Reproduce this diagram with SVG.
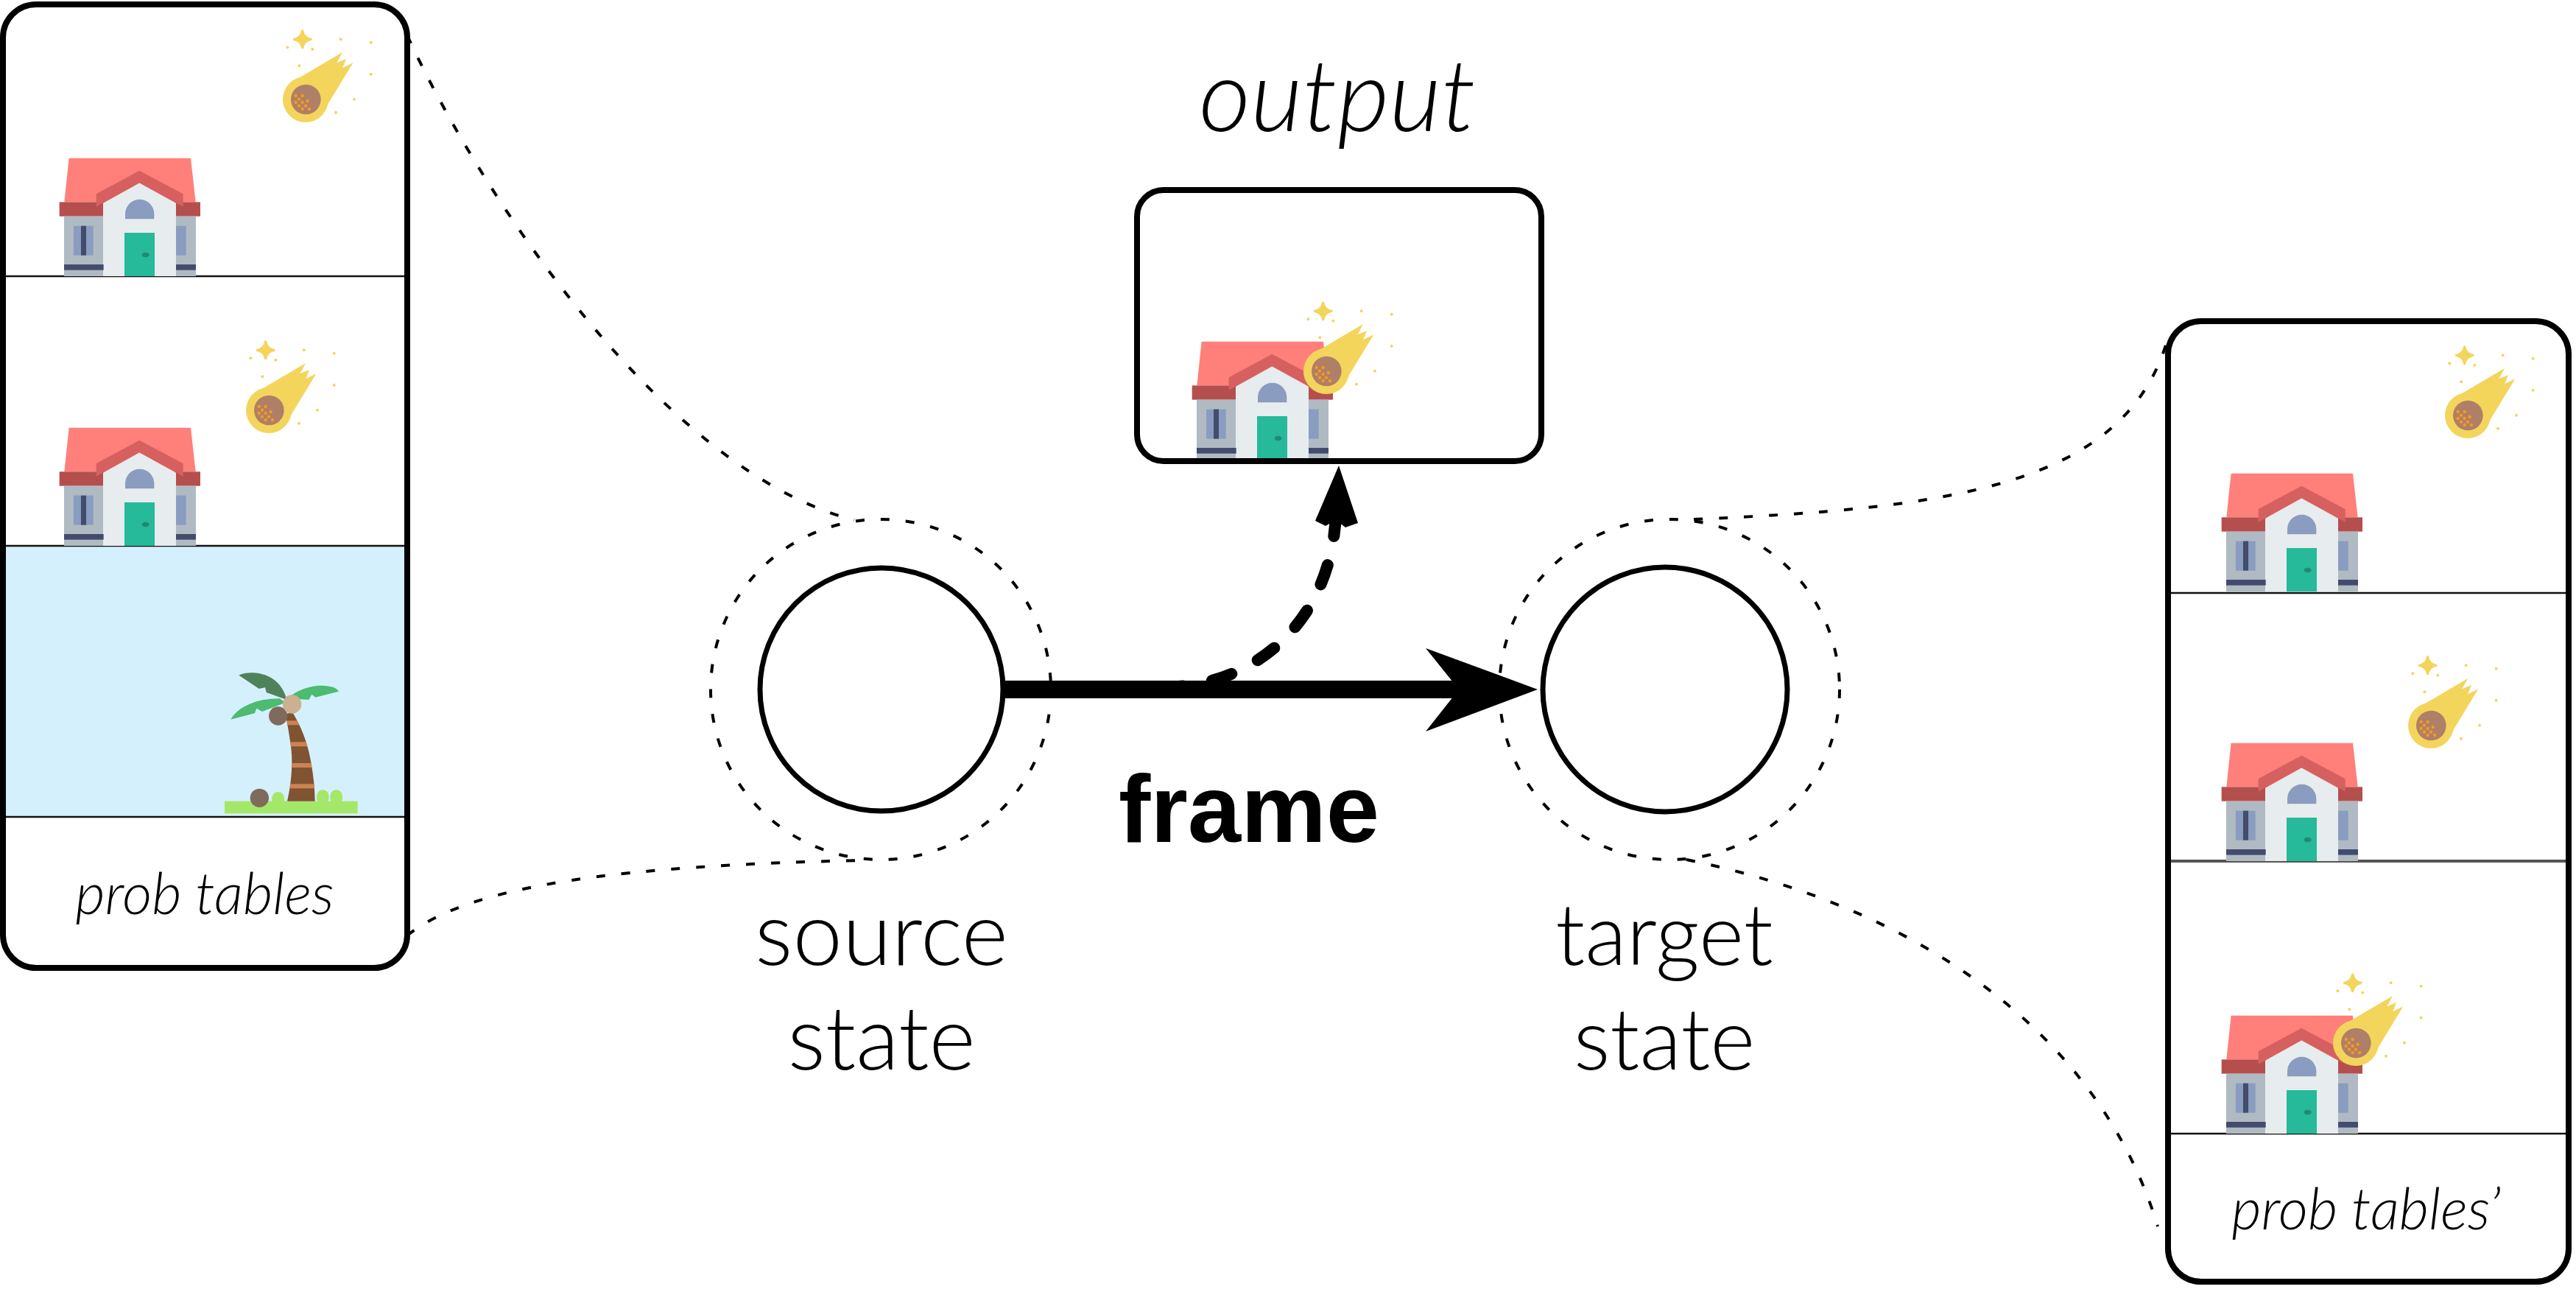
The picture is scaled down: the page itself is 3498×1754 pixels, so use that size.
<svg xmlns="http://www.w3.org/2000/svg" xmlns:xlink="http://www.w3.org/1999/xlink" width="3498" height="1754" viewBox="0 0 3498 1754">
  <style>
    .panel { fill: none; stroke: #000; stroke-width: 8; }
    .sep { stroke: #111; stroke-width: 2.5; }
    .state { fill: #fff; stroke: #000; stroke-width: 7; }
    .halo { fill: none; stroke: #000; stroke-width: 4; stroke-dasharray: 12 22; }
    .lead { fill: none; stroke: #000; stroke-width: 4; stroke-dasharray: 12 22; }
    .lbl { font-family: "Lato", "Liberation Sans", sans-serif; font-weight: 300; fill: #000; text-anchor: middle; }
    .ital { font-style: italic; }
    .bold { font-family: "Liberation Sans", Arial, sans-serif; font-weight: 700; fill: #000; text-anchor: middle; }
  </style>
  <defs>
    <!-- house icon, drawn at 3x and scaled down -->
    <g id="house">
      <g transform="scale(0.33333)">
        <polygon points="101,104 597,104 617,283 82,283" fill="#FF7F7A"/>
        <rect x="62" y="283" width="574" height="58" fill="#B44F4E"/>
        <rect x="81" y="341" width="537" height="244" fill="#AFBAC3"/>
        <polygon points="240,287 388,205 537,287 537,585 240,585" fill="#E7ECEE"/>
        <polygon points="212,250 388,155 566,250 566,302 388,205 212,302" fill="#D5605F"/>
        <path d="M330,352 V331 A59,59 0 0 1 448,331 V352 Z" fill="#8A9CBF"/>
        <rect x="327" y="408" width="123" height="177" fill="#26B99A"/>
        <ellipse cx="413" cy="498" rx="15" ry="10" fill="#1F8A70"/>
        <rect x="120" y="380" width="80" height="120" fill="#8A9CBF"/>
        <rect x="150" y="380" width="21" height="120" fill="#434C6D"/>
        <rect x="537" y="380" width="41" height="120" fill="#8A9CBF"/>
        <rect x="81" y="537" width="161" height="23" fill="#434C6D"/>
        <rect x="537" y="537" width="81" height="23" fill="#434C6D"/>
      </g>
    </g>
    <!-- falling meteor with sparkles -->
    <g id="meteor">
      <g transform="scale(0.33333)">
        <g fill="#F3D55C">
          <circle cx="165" cy="345" r="93"/>
          <polygon points="120,268 315,153 292,196 330,180 316,216 358,196 240,390 165,345"/>
          <path d="M152,66 Q157,95 186,100 Q157,105 152,134 Q147,105 118,100 Q147,95 152,66 Z" stroke="#F3D55C" stroke-width="10" stroke-linejoin="round"/>
          <circle cx="91" cy="133" r="6"/>
          <circle cx="193" cy="140" r="6"/>
          <circle cx="308" cy="100" r="6"/>
          <circle cx="431" cy="113" r="6"/>
          <circle cx="139" cy="208" r="6"/>
          <circle cx="431" cy="242" r="6"/>
          <circle cx="363" cy="344" r="6"/>
          <circle cx="288" cy="398" r="6"/>
        </g>
        <circle cx="166" cy="345" r="61" fill="#B07F67"/>
        <g fill="#F29C1F">
          <circle cx="125" cy="330" r="6.5"/>
          <circle cx="152" cy="330" r="6.5"/>
          <circle cx="138" cy="344" r="6.5"/>
          <circle cx="125" cy="357" r="6.5"/>
          <circle cx="152" cy="357" r="6.5"/>
          <circle cx="173" cy="351" r="6.5"/>
          <circle cx="138" cy="371" r="6.5"/>
          <circle cx="165" cy="371" r="6.5"/>
          <circle cx="152" cy="384" r="6.5"/>
          <circle cx="180" cy="384" r="6.5"/>
        </g>
      </g>
    </g>
    <clipPath id="trunkClip">
      <path d="M330,623 C345,560 355,470 345,400 C338,350 330,300 322,268 L352,262 C375,300 405,360 420,430 C435,500 442,560 443,623 Z"/>
    </clipPath>
  </defs>

  <rect width="3498" height="1754" fill="#fff"/>

  <!-- connectors -->
  <g id="connectors">
    <path class="lead" d="M553,48 C650,260 900,640 1160,706"/>
    <path class="lead" d="M553,1270 C640,1200 850,1175 1170,1168"/>
    <path class="lead" d="M2300,705 C2650,690 2890,660 2945,455"/>
    <path class="lead" d="M2290,1167 C2600,1230 2850,1400 2930,1665"/>
    <!-- frame transition -->
    <line x1="1365" y1="936" x2="1990" y2="936" stroke="#000" stroke-width="24"/>
    <polygon points="2088,936 1936,880 1981,936 1936,993" fill="#000"/>
    <!-- output emission -->
    <path d="M1814,700 C1806,850 1700,925 1600,932" fill="none" stroke="#000" stroke-width="16" stroke-linecap="round" stroke-dasharray="28 40"/>
    <polygon points="1818,632 1844,710 1827,716 1814,706 1800,714 1786,707" fill="#000"/>
  </g>

  <!-- source state -->
  <g id="source-state">
    <circle class="halo" cx="1196" cy="936" r="231"/>
    <circle class="state" cx="1197" cy="936" r="165"/>
    <text class="lbl" x="1197" y="1310" font-size="121">source</text>
    <text class="lbl" x="1197" y="1452" font-size="121">state</text>
  </g>

  <!-- target state -->
  <g id="target-state">
    <circle class="halo" cx="2267" cy="936" r="231"/>
    <circle class="state" cx="2261" cy="936" r="166"/>
    <text class="lbl" x="2260" y="1310" font-size="117">target</text>
    <text class="lbl" x="2260" y="1452" font-size="117">state</text>
  </g>

  <text id="frame-label" class="bold" x="1696" y="1143" font-size="130">frame</text>

  <!-- output -->
  <g id="output">
    <text class="lbl ital" x="1816" y="178" font-size="137">output</text>
    <rect x="1544" y="258" width="549" height="368" rx="36" fill="#fff"/>
    <use xlink:href="#house" transform="translate(1598,429)"/>
    <use xlink:href="#meteor" transform="translate(1746,389)"/>
    <rect x="1544" y="258" width="549" height="368" rx="36" fill="none" stroke="#000" stroke-width="8"/>
  </g>

  <!-- prob tables (source) -->
  <g id="prob-tables">
    <rect x="4" y="6" width="549" height="1308" rx="45" fill="#fff"/>
    <rect x="8" y="741" width="541" height="368" fill="#D5F0FD"/>
    <line class="sep" x1="8" y1="375" x2="549" y2="375"/>
    <line class="sep" x1="8" y1="741" x2="549" y2="741"/>
    <line class="sep" x1="8" y1="1109" x2="549" y2="1109"/>
    <use xlink:href="#house" transform="translate(60,180)"/>
    <use xlink:href="#meteor" transform="translate(360,20)"/>
    <use xlink:href="#house" transform="translate(60,546)"/>
    <use xlink:href="#meteor" transform="translate(310,442)"/>
    <!-- palm island -->
    <g transform="translate(280,880) scale(0.33333)">
      <rect x="268" y="585" width="50" height="60" rx="25" fill="#A4E869"/>
      <rect x="450" y="577" width="50" height="60" rx="25" fill="#A4E869"/>
      <rect x="505" y="577" width="50" height="60" rx="25" fill="#A4E869"/>
      <rect x="75" y="623" width="542" height="50" fill="#A4E869"/>
      <circle cx="217" cy="610" r="38" fill="#7F6B5C"/>
      <path d="M330,623 C345,560 355,470 345,400 C338,350 330,300 322,268 L352,262 C375,300 405,360 420,430 C435,500 442,560 443,623 Z" fill="#805333"/>
      <g clip-path="url(#trunkClip)" fill="#CC8352">
        <rect x="300" y="295" width="170" height="18"/>
        <rect x="300" y="382" width="170" height="18"/>
        <rect x="300" y="468" width="170" height="18"/>
        <rect x="300" y="553" width="170" height="18"/>
      </g>
      <path d="M133,110 C180,90 250,100 290,140 C310,160 322,185 328,210 L245,180 L240,160 L215,165 Z" fill="#4F825A"/>
      <path d="M100,290 C130,240 200,205 300,205 L322,222 L228,258 L205,245 L198,265 Z" fill="#4DBB71"/>
      <path d="M330,205 C380,160 460,140 520,160 C530,165 537,170 540,176 L445,200 L430,188 L418,210 Z" fill="#4DBB71"/>
      <circle cx="293" cy="276" r="38" fill="#7F6B5C"/>
      <circle cx="350" cy="228" r="38" fill="#CBB092"/>
    </g>
    <text class="lbl ital" x="278" y="1241" font-size="78">prob tables</text>
    <rect class="panel" x="4" y="6" width="549" height="1308" rx="45"/>
  </g>

  <!-- prob tables (target) -->
  <g id="prob-tables-next">
    <rect x="2944" y="436" width="544" height="1304" rx="45" fill="#fff"/>
    <line class="sep" x1="2948" y1="805" x2="3484" y2="805"/>
    <line x1="2948" y1="1169" x2="3484" y2="1169" stroke="#555" stroke-width="4"/>
    <line class="sep" x1="2948" y1="1539" x2="3484" y2="1539"/>
    <use xlink:href="#house" transform="translate(2996,608)"/>
    <use xlink:href="#meteor" transform="translate(3296,449)"/>
    <use xlink:href="#house" transform="translate(2996,974)"/>
    <use xlink:href="#meteor" transform="translate(3246,870)"/>
    <use xlink:href="#house" transform="translate(2996,1344)"/>
    <use xlink:href="#meteor" transform="translate(3144,1301)"/>
    <text class="lbl ital" x="3213" y="1669" font-size="78">prob tables’</text>
    <rect class="panel" x="2944" y="436" width="544" height="1304" rx="45"/>
  </g>
</svg>
